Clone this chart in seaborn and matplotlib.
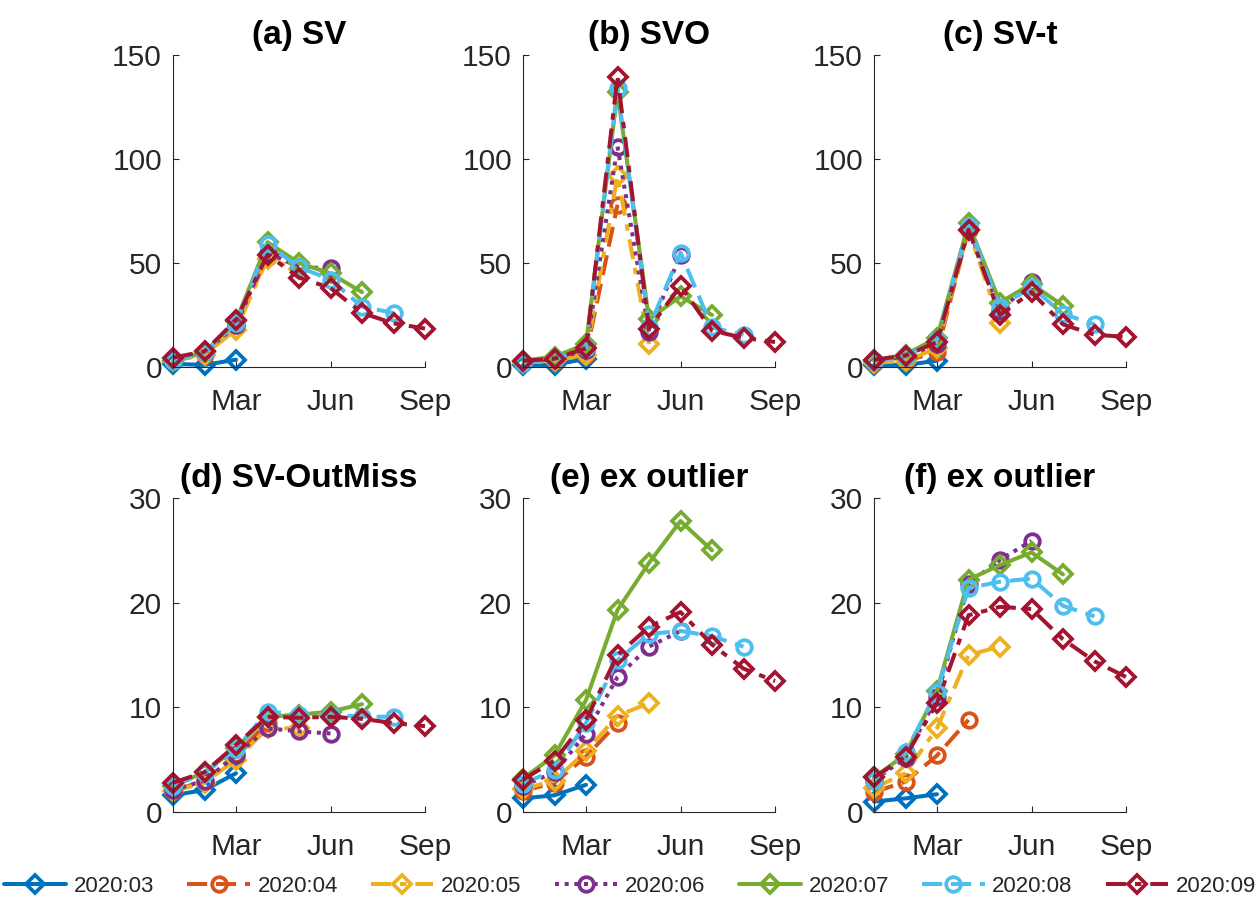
import numpy as np
import pandas as pd
import matplotlib
matplotlib.use("Agg")
import matplotlib.pyplot as plt
import seaborn as sns

# ---------------- data ----------------
months = [1, 2, 3, 4, 5, 6, 7, 8, 9]
month_ticks = [3, 6, 9]
month_labels = ["Mar", "Jun", "Sep"]
vintages = ["2020:03", "2020:04", "2020:05", "2020:06", "2020:07", "2020:08", "2020:09"]
titles = ["(a) SV", "(b) SVO", "(c) SV-t", "(d) SV-OutMiss", "(e) ex outlier", "(f) ex outlier"]

sv = [
    [1.5, 1.0, 3.5],
    [3, 6, 20, 53],
    [3, 6, 18, 52, 47],
    [3, 7, 20, 55, 48, 47.5],
    [3, 7, 22, 60, 50, 45, 36],
    [3, 7, 21, 59, 48, 42, 29, 26],
    [4.5, 7.5, 22.5, 54, 43, 38, 26, 21, 18.5],
]
svo = [
    [1, 1, 4],
    [2, 3, 6, 78],
    [2, 3, 6, 92, 11],
    [2, 4, 8, 106, 17, 54],
    [3, 5, 11, 132, 23, 34, 25],
    [2, 4, 9, 134, 19, 55, 19, 15.5],
    [3, 4, 9, 139.5, 18.5, 39, 17.5, 14, 12],
]
sv_t = [
    [1, 1, 3],
    [2, 3, 7, 66],
    [2, 3, 9, 66, 21],
    [3, 5, 11, 67, 27, 41],
    [3, 6, 14, 69, 31, 40, 29.5],
    [3, 5, 13, 68, 29, 38.5, 25.5, 20.5],
    [3.5, 5.5, 12, 66, 25, 36, 20.5, 15.5, 14.5],
]
sv_outmiss = [
    [1.6, 2.1, 3.7],
    [2.0, 3.0, 5.5, 8.5],
    [2.0, 2.8, 5.0, 8.0, 8.0],
    [2.1, 3.0, 5.4, 8.0, 7.7, 7.5],
    [2.5, 3.8, 6.1, 9.1, 9.3, 9.6, 10.3],
    [2.5, 3.7, 6.0, 9.6, 9.3, 9.3, 9.1, 9.1],
    [2.8, 3.8, 6.4, 9.1, 9.0, 9.1, 8.9, 8.5, 8.2],
]
ex_outlier_e = [
    [1.3, 1.6, 2.6],
    [2.0, 2.8, 5.3, 8.5],
    [2.2, 3.0, 5.8, 9.2, 10.4],
    [2.5, 3.8, 7.5, 12.9, 15.8, 17.3],
    [3.2, 5.4, 10.7, 19.3, 23.8, 27.8, 25.0],
    [2.7, 4.0, 8.5, 14.5, 17.0, 17.3, 16.8, 15.8],
    [3.1, 4.9, 8.8, 15.0, 17.7, 19.1, 16.0, 13.7, 12.5],
]
ex_outlier_f = [
    [1.0, 1.3, 1.7],
    [1.9, 2.9, 5.4, 8.8],
    [2.3, 3.7, 8.0, 15.0, 15.8],
    [3.0, 5.2, 11.0, 21.8, 24.1, 25.9],
    [3.3, 5.5, 11.6, 22.2, 23.6, 24.8, 22.7],
    [3.0, 5.7, 11.5, 21.4, 22.0, 22.3, 19.7, 18.7],
    [3.3, 5.3, 10.4, 18.8, 19.6, 19.4, 16.5, 14.4, 12.9],
]
panels = [sv, svo, sv_t, sv_outmiss, ex_outlier_e, ex_outlier_f]
y_ticks = [[0, 50, 100, 150]] * 3 + [[0, 10, 20, 30]] * 3

# ---------------- style ----------------
colors = ["#0072BD", "#D95319", "#EDB120", "#7E2F8E", "#77AC30", "#4DBEEE", "#A2142F"]
markers = ["D", "o", "D", "o", "D", "o", "D"]
styles = ["-", (0, (5, 2.2)), (0, (5, 2.2, 1.6, 2.2)), (0, (1, 1.4)),
          "-", (0, (5, 2.2)), (0, (5, 2.2, 1.6, 2.2))]

sns.set_theme(style="ticks")
plt.rcParams["font.family"] = ["Liberation Sans", "DejaVu Sans"]

fig = plt.figure(figsize=(12.6, 9.02), dpi=100)
lefts = [173, 523, 874]
axes = []
for r in range(2):
    for c in range(3):
        if r == 0:
            bottom = 1 - 367 / 902
            height = (367 - 55) / 902
        else:
            bottom = 1 - 812 / 902
            height = (812 - 498) / 902
        axes.append(fig.add_axes([lefts[c] / 1260, bottom, 252 / 1260, height]))

for i, ax in enumerate(axes):
    data = panels[i]
    for j, vals in enumerate(data):
        xs = months[:len(vals)]
        sns.lineplot(x=xs, y=vals, ax=ax, color=colors[j], linestyle=styles[j],
                     linewidth=2.9, marker=markers[j],
                     markersize=10.5 if markers[j] == "o" else 9.5,
                     markerfacecolor="none", markeredgecolor=colors[j],
                     markeredgewidth=2.7, clip_on=False, label=vintages[j],
                     legend=False)
    ax.set_xlim(1, 9)
    yt = y_ticks[i]
    ax.set_ylim(yt[0], yt[-1])
    ax.set_yticks(yt)
    ax.set_xticks(month_ticks)
    ax.set_xticklabels(month_labels)
    ax.set_xlabel("")
    ax.set_ylabel("")
    sns.despine(ax=ax)
    for s in ["left", "bottom"]:
        ax.spines[s].set_color("#262626")
        ax.spines[s].set_linewidth(0.8)
    ax.tick_params(axis="both", direction="in", length=4, width=0.8,
                   colors="#262626", labelsize=21.5, pad=8)
    ax.tick_params(axis="x", pad=15)
    ax.set_title(titles[i], fontsize=24, fontweight="bold", color="black", pad=8)

handles = axes[0].get_lines()[:7]
fig.legend(handles, vintages, loc="lower center", bbox_to_anchor=(0.5, -0.004),
           ncol=7, frameon=False, fontsize=16, handlelength=2.8,
           handletextpad=0.35, columnspacing=1.5, borderaxespad=0.0)

fig.savefig("out.png", dpi=100)
